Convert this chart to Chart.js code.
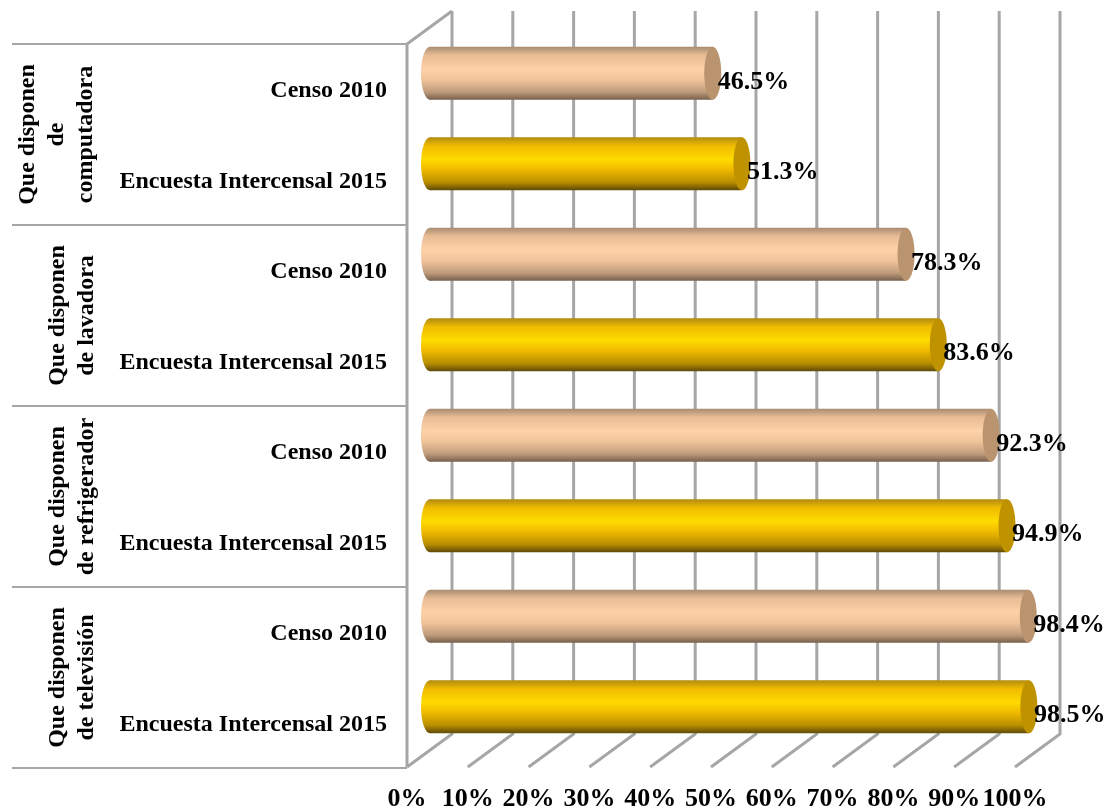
<!DOCTYPE html>
<html>
<head>
<meta charset="utf-8">
<title>Disponen de bienes</title>
<script src="https://cdn.jsdelivr.net/npm/chart.js@4"></script>
<style>
  html, body { margin: 0; padding: 0; background: #fff; }
  canvas { display: block; }
</style>
</head>
<body>
<canvas id="chart" width="1110" height="812"></canvas>
<script>
// Values
const categories = [
  'Censo 2010', 'Encuesta Intercensal 2015',
  'Censo 2010', 'Encuesta Intercensal 2015',
  'Censo 2010', 'Encuesta Intercensal 2015',
  'Censo 2010', 'Encuesta Intercensal 2015'
];
const percentValues = [46.5, 51.3, 78.3, 83.6, 92.3, 94.9, 98.4, 98.5];
const groupLabels = [
  ['Que disponen', 'de', 'computadora'],
  ['Que disponen', 'de lavadora'],
  ['Que disponen', 'de refrigerador'],
  ['Que disponen', 'de televisión']
];

const FONT = '"Liberation Serif", "Times New Roman", serif';
const GRID = '#a6a6a6';

// Cylinder shading, top edge to bottom edge
const peachStops = ['#a88c72', '#e8bc94', '#fdd2a8', '#f0c49a', '#c09c7c', '#77604c'];
const goldStops = ['#b08c10', '#efbb00', '#ffdb00', '#eeb800', '#b88e00', '#5f4a08'];
const peachCap = '#b9946f';
const goldCap = '#bf9200';

function stopsFor(index) {
  return index % 2 === 0 ? peachStops : goldStops;
}

function barGradient(c, y, half, stops) {
  const g = c.createLinearGradient(0, y - half, 0, y + half);
  const pos = [0, 0.16, 0.42, 0.62, 0.85, 1];
  stops.forEach((s, i) => g.addColorStop(pos[i], s));
  return g;
}

// Walls and floor of the fake 3D box, placed from the scales
const boxPlugin = {
  id: 'box',
  beforeDatasetsDraw(chart) {
    const c = chart.ctx;
    const x = chart.scales.x;
    const y = chart.scales.y;
    const step = y.getPixelForValue(1) - y.getPixelForValue(0);
    const wallTop = y.top - 17;
    const wallBottom = y.bottom - 18;
    const depthX = 22;
    const depthY = 16.5;

    c.save();
    c.strokeStyle = GRID;
    c.lineWidth = 3;
    for (let v = 0; v <= 100; v += 10) {
      const px = x.getPixelForValue(v);
      c.beginPath();
      c.moveTo(px + depthX, wallTop);
      c.lineTo(px + depthX, wallBottom);
      c.lineTo(px - depthX - 1, wallBottom + depthY * 2);
      c.stroke();
    }
    // side wall
    const sideX = x.left - depthX - 1;
    c.beginPath();
    c.moveTo(x.left + depthX, wallTop);
    c.lineTo(sideX, wallTop + depthY * 2);
    c.lineTo(sideX, wallBottom + depthY * 2);
    c.stroke();

    // separators between groups
    c.lineWidth = 2;
    for (let i = 0; i <= groupLabels.length; i++) {
      const sy = y.top + 16 + i * 2 * step;
      c.beginPath();
      c.moveTo(12, sy);
      c.lineTo(sideX, sy);
      c.stroke();
    }

    // rounded back of each bar
    const meta = chart.getDatasetMeta(0);
    meta.data.forEach((bar, i) => {
      c.fillStyle = barGradient(c, bar.y, bar.height / 2, stopsFor(i));
      c.beginPath();
      c.ellipse(x.left, bar.y, 9, bar.height / 2, 0, 0, Math.PI * 2);
      c.fill();
    });
    c.restore();
  },
  afterDatasetsDraw(chart) {
    const c = chart.ctx;
    const y = chart.scales.y;
    const step = y.getPixelForValue(1) - y.getPixelForValue(0);
    const meta = chart.getDatasetMeta(0);

    c.save();
    // bar end caps
    meta.data.forEach((bar, i) => {
      c.fillStyle = i % 2 === 0 ? peachCap : goldCap;
      c.beginPath();
      c.ellipse(bar.x, bar.y, 8.5, bar.height / 2, 0, 0, Math.PI * 2);
      c.fill();
    });

    // value labels
    c.fillStyle = '#000';
    c.font = 'bold 26px ' + FONT;
    c.textAlign = 'left';
    c.textBaseline = 'middle';
    meta.data.forEach((bar, i) => {
      c.fillText(percentValues[i].toFixed(1) + '%', bar.x + 5, bar.y + 9);
    });

    // rotated group labels
    c.font = 'bold 24px ' + FONT;
    c.textAlign = 'center';
    groupLabels.forEach((lines, i) => {
      const cy = y.top + 16 + (i + 0.5) * 2 * step;
      const cx = lines.length === 3 ? 57 : 72;
      lines.forEach((line, k) => {
        c.save();
        c.translate(cx + (k - (lines.length - 1) / 2) * 29, cy);
        c.rotate(-Math.PI / 2);
        c.fillText(line, 0, 0);
        c.restore();
      });
    });
    c.restore();
  }
};

new Chart(document.getElementById('chart'), {
  type: 'bar',
  data: {
    labels: categories,
    datasets: [{
      data: percentValues,
      barPercentage: 0.586,
      categoryPercentage: 1,
      borderWidth: 0,
      backgroundColor(ctx) {
        const chart = ctx.chart;
        if (!chart.chartArea || ctx.dataIndex === undefined) return '#ccc';
        const y = chart.scales.y.getPixelForValue(ctx.dataIndex);
        return barGradient(chart.ctx, y, 26.5, stopsFor(ctx.dataIndex));
      }
    }]
  },
  options: {
    indexAxis: 'y',
    responsive: false,
    animation: false,
    layout: { padding: { top: 0, right: 72, bottom: 0, left: 0 } },
    plugins: { legend: { display: false }, tooltip: { enabled: false } },
    scales: {
      x: {
        min: 0,
        max: 100,
        grid: { display: false, drawTicks: false },
        border: { display: false },
        afterFit(scale) { scale.height = 60; },
        ticks: {
          stepSize: 10,
          autoSkip: false,
          maxRotation: 0,
          padding: 32,
          labelOffset: -23,
          color: '#000',
          font: { family: FONT, size: 26, weight: 'bold' },
          callback: v => v + '%'
        }
      },
      y: {
        grid: { display: false, drawTicks: false },
        border: { display: false },
        afterFit(scale) { scale.width = 430; scale.paddingTop = 28; scale.paddingBottom = 0; },
        ticks: {
          autoSkip: false,
          padding: 43,
          labelOffset: 18,
          color: '#000',
          font: { family: FONT, size: 24, weight: 'bold' }
        }
      }
    }
  },
  plugins: [boxPlugin]
});
</script>
</body>
</html>
